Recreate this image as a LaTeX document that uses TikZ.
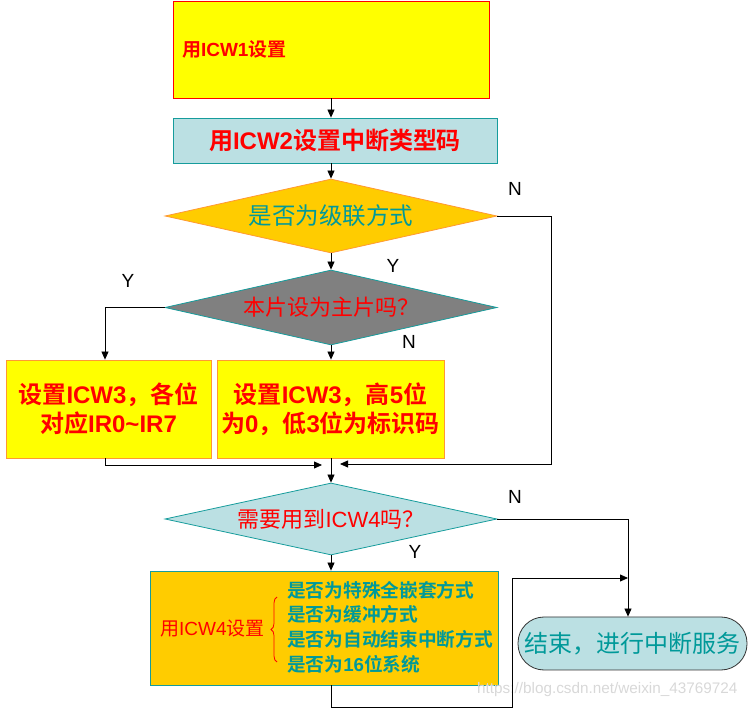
\documentclass[tikz,border=0pt]{standalone}
\usepackage{fontspec}
\setmainfont{Noto Sans CJK SC}[BoldFont={Noto Sans CJK SC Bold}]
\newfontfamily\lat{Liberation Sans}
\usetikzlibrary{shapes.geometric,arrows.meta,decorations.pathreplacing}
\newcommand\LL[1]{{\lat #1}}
\definecolor{yel}{HTML}{FFFF00}
\definecolor{rd}{HTML}{FF0000}
\definecolor{orb}{HTML}{FF9933}
\definecolor{cy}{HTML}{BBE0E3}
\definecolor{tl}{HTML}{169C9C}
\definecolor{tltext}{HTML}{009999}
\definecolor{gold}{HTML}{FFCC00}
\definecolor{gr}{HTML}{808080}
\definecolor{wm}{HTML}{D8D8D8}
\tikzset{
  box/.style={rectangle,inner sep=0pt,line width=0.8pt},
  dia/.style={diamond,inner sep=0pt,shape aspect=4.5,line width=0.8pt,minimum width=332pt},
  arr/.style={draw=black,line width=0.8pt,-{Triangle[length=8pt,width=7pt]}},
  ln/.style={draw=black,line width=0.8pt},
  yn/.style={font=\lat\fontsize{19}{22}\selectfont,inner sep=0pt},
}
\begin{document}
\begin{tikzpicture}[x=1pt,y=-1pt]
\useasboundingbox (0,0) rectangle (756,708);
% nodes
\node[box,draw=rd,fill=yel,minimum width=316pt,minimum height=97pt,
      text width=298pt,align=left,text=rd,font=\bfseries\fontsize{19}{22}\selectfont] (b1) at (331,49.5) {用\LL{ICW1}设置};
\node[box,draw=tl,fill=cy,minimum width=324pt,minimum height=45pt,
      text=rd,font=\bfseries\fontsize{24}{28}\selectfont] (b2) at (335,140.5) {用\LL{ICW2}设置中断类型码};
\node[dia,draw=orb,fill=gold,minimum height=74pt,text=tltext,
      font=\fontsize{23.5}{27}\selectfont] (d1) at (331,216) {是否为级联方式};
\node[dia,draw=tl,fill=gr,minimum height=75pt,text=rd,
      font=\fontsize{22}{26}\selectfont] (d2) at (331,307.5) {本片设为主片吗？};
\node[box,draw=orb,fill=yel,minimum width=205pt,minimum height=98pt,align=center,text=rd,
      font=\bfseries\fontsize{24}{29}\selectfont] (b3) at (108.5,409) {设置\LL{ICW3}，各位\\对应\LL{IR0\textasciitilde IR7}};
\node[box,draw=orb,fill=yel,minimum width=227pt,minimum height=98pt,align=center,text=rd,
      font=\bfseries\fontsize{24}{29}\selectfont] (b4) at (330.5,409) {设置\LL{ICW3}，高\LL{5}位\\为\LL{0}，低\LL{3}位为标识码};
\node[dia,draw=tl,fill=cy,minimum height=72pt,text=rd,
      font=\fontsize{22}{26}\selectfont] (d3) at (331,519) {需要用到\LL{ICW4}吗？};
\node[box,draw=tl,fill=gold,minimum width=348pt,minimum height=114pt] (b5) at (324,628) {};
\node[anchor=west,inner sep=0pt,text=rd,font=\fontsize{19}{22}\selectfont] (b5l) at (160,628) {用\LL{ICW4}设置};
\node[anchor=west,inner sep=0pt,align=left,text=tltext,font=\bfseries\fontsize{18.7}{24.7}\selectfont] (b5r) at (287,627)
  {是否为特殊全嵌套方式\\是否为缓冲方式\\是否为自动结束中断方式\\是否为\LL{16}位系统};
\node[box,draw=black!80,fill=cy,minimum width=229pt,minimum height=53pt,rounded corners=26pt,text=tltext,
      font=\fontsize{24}{28}\selectfont] (term) at (632.5,643.5) {结束，进行中断服务};
\node[anchor=west,inner sep=0pt,text=wm,font=\lat\fontsize{15.3}{18}\selectfont] (wmk) at (477,690) {https://blog.csdn.net/weixin\_43769724};
% brace
\draw[rd,line width=0.8pt,decorate,decoration={brace,amplitude=6pt}] (277,662) -- (277,597);
% labels
\node[yn] (n1) at (515,189) {N};
\node[yn] (y1) at (393,266) {Y};
\node[yn] (y2) at (128,281) {Y};
\node[yn] (n2) at (409,342) {N};
\node[yn] (n3) at (515,497) {N};
\node[yn] (y3) at (415,552) {Y};
% coordinates
\coordinate (jl) at (322,465);
\coordinate (jr) at (340,464);
\coordinate (c1) at (551,216);
\coordinate (m) at (628,578);
\coordinate (c2) at (512,707);
% connectors
\draw[arr] (b1.south) -- (b1.south |- b2.north);
\draw[arr] (d1.north |- b2.south) -- (d1.north);
\draw[arr] (d1.east) -- (c1) |- (jr);
\draw[arr] (d1.south) -- (d2.north);
\draw[arr] (d2.west) -| ([xshift=-3.5pt]b3.north);
\draw[arr] (d2.south) -- (d2.south |- b4.north);
\draw[arr] ([xshift=-3.5pt]b3.south) |- (jl);
\draw[arr] (d3.north |- b4.south) -- (d3.north);
\draw[arr] (d3.south) -- (d3.south |- b5.north);
\draw[arr] (d3.east) -| ([xshift=-4.5pt]term.north);
\draw[arr] (d3.south |- b5.south) |- (c2) |- (m);
\end{tikzpicture}
\end{document}
